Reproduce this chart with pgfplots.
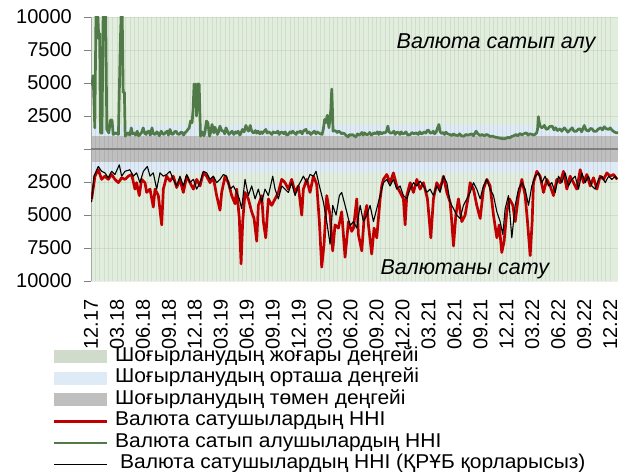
\documentclass[border=0pt]{standalone}
\usepackage{fontspec}
\setmainfont{Liberation Sans}
\newfontfamily\legfont[FakeStretch=1.05]{Liberation Sans}
\usepackage{pgfplots}
\pgfplotsset{compat=1.18}
\definecolor{bandgreen}{RGB}{226,238,221}
\definecolor{bandblue}{RGB}{222,234,246}
\definecolor{bandgray}{RGB}{191,191,191}
\definecolor{sellred}{RGB}{192,0,0}
\definecolor{buygreen}{RGB}{80,122,72}
\begin{document}
\begin{tikzpicture}
\begin{axis}[
  set layers,
  scale only axis, width=527bp, height=264bp,
  at={(0,0)}, anchor=south west,
  xmin=0, xmax=60.9, ymin=-10000, ymax=10000,
  scaled y ticks=false,
  axis x line*=bottom, x axis line style={draw=none},
  axis y line*=left, y axis line style={draw=black!35, line width=0.8bp},
  xtick={0,3,...,60},
  xticklabels={12.17,03.18,06.18,09.18,12.18,03.19,06.19,09.19,12.19,03.20,06.20,09.20,12.20,03.21,06.21,09.21,12.21,03.22,06.22,09.22,12.22},
  x tick label style={rotate=90, anchor=east, font=\fontsize{20bp}{20bp}\selectfont, inner sep=0bp, xshift=-11bp},
  minor x tick num=5,
  xmajorgrids, xminorgrids, ymajorgrids,
  grid style={black, opacity=0.07, line width=0.8bp},
  minor grid style={black, opacity=0.07, line width=0.8bp},
  x tick style={draw=none}, minor x tick style={draw=none},
  ytick={-10000,-7500,-5000,-2500,0,2500,5000,7500,10000},
  yticklabels={10000,7500,5000,2500,{},2500,5000,7500,10000},
  y tick style={draw=black!50, line width=0.8bp},
  tick align=outside, major tick length=7bp,
  y tick label style={font=\fontsize{20bp}{20bp}\selectfont, inner sep=0bp, xshift=-12bp},
  clip=true,
  legend style={at={(-0.0721,-0.247)}, anchor=north west, draw=none, fill=none,
    inner sep=0bp, outer sep=0bp,
    font=\legfont\fontsize{20bp}{21.5bp}\selectfont,
    nodes={inner xsep=0bp, inner ysep=0bp, text height=15bp, text depth=6.5bp},
    /tikz/every odd column/.append style={column sep=7bp}},
  legend cell align=left,
]
% bands
\addplot[fill=bandgreen, draw=none, on layer=axis background,
  legend image code/.code={\fill[bandgreen!92!black] (0bp,-6.5bp) rectangle (53bp,6.5bp);}]
  coordinates {(0,-10000)(60.9,-10000)(60.9,10000)(0,10000)} -- cycle;
\addlegendentry{Шоғырланудың жоғары деңгейі}
\addplot[fill=bandblue, draw=none, on layer=axis background,
  legend image code/.code={\fill[bandblue] (0bp,-6.5bp) rectangle (53bp,6.5bp);}]
  coordinates {(0,-1800)(60.9,-1800)(60.9,1800)(0,1800)} -- cycle;
\addlegendentry{Шоғырланудың орташа деңгейі}
\addplot[fill=bandgray, draw=none, on layer=axis background,
  legend image code/.code={\fill[bandgray] (0bp,-6.5bp) rectangle (53bp,6.5bp);}]
  coordinates {(0,-1000)(60.9,-1000)(60.9,1000)(0,1000)} -- cycle;
\addlegendentry{Шоғырланудың төмен деңгейі}
\addplot[draw=black!50, line width=1.6bp, forget plot] coordinates {(0,0)(60.9,0)};
% sellers HHI
\addplot[sellred, line width=2.7bp, line join=round,
  legend image code/.code={\draw[sellred, line width=2.2bp] (0bp,0bp) -- (53bp,0bp);}]
  coordinates {(0.07,-3800)(0.46,-2060)(0.84,-1570)(1.23,-2300)(1.61,-2060)(2.0,-2300)(2.38,-1930)(2.77,-2300)(3.16,-2550)(3.54,-2180)(3.93,-2300)(4.31,-2060)(4.7,-1930)(5.08,-3040)(5.27,-2550)(5.58,-3530)(5.85,-2300)(6.24,-2550)(6.43,-3290)(6.82,-3040)(7.2,-4400)(7.4,-3040)(7.78,-3530)(8.17,-5750)(8.36,-3040)(8.74,-2060)(9.13,-2430)(9.51,-2060)(9.9,-2920)(10.28,-2300)(10.67,-3290)(11.06,-2060)(11.44,-2550)(11.83,-3040)(12.21,-2300)(12.6,-2800)(12.98,-1810)(13.37,-2060)(13.75,-2550)(14.14,-2180)(14.52,-3530)(14.91,-4640)(15.1,-3290)(15.49,-2060)(15.87,-2550)(16.26,-3530)(16.64,-4150)(16.84,-3040)(17.14,-5260)(17.34,-8700)(17.53,-5500)(17.8,-3290)(18.18,-3780)(18.57,-4760)(18.84,-5260)(19.15,-6980)(19.34,-4270)(19.73,-3530)(19.92,-5500)(20.19,-6730)(20.5,-3780)(20.88,-4270)(21.27,-3780)(21.65,-3290)(22.04,-2300)(22.42,-2550)(22.81,-3040)(23.19,-2300)(23.58,-3290)(23.96,-2800)(24.35,-5010)(24.54,-3040)(24.93,-2300)(25.31,-3290)(25.7,-2060)(26.08,-2670)(26.39,-5500)(26.66,-8950)(26.93,-7220)(27.24,-3530)(27.63,-5010)(27.93,-7720)(28.2,-5750)(28.59,-5990)(28.97,-4760)(29.36,-8200)(29.75,-5500)(30.13,-6240)(30.33,-6000)(30.71,-3780)(30.9,-6480)(31.29,-7720)(31.56,-5260)(31.87,-4270)(32.06,-5750)(32.44,-7960)(32.71,-5990)(33.02,-6730)(33.41,-3780)(33.6,-2800)(33.79,-2300)(34.18,-1930)(34.56,-2550)(34.95,-1810)(35.33,-2800)(35.72,-3290)(36.1,-3780)(36.3,-5750)(36.49,-3530)(36.88,-2550)(37.26,-3290)(37.65,-2300)(38.03,-3040)(38.42,-2550)(38.88,-3780)(39.27,-6730)(39.57,-3780)(39.96,-2550)(40.34,-3040)(40.73,-2060)(41.12,-3290)(41.5,-4030)(41.69,-5500)(41.89,-7350)(42.16,-5010)(42.46,-3780)(42.85,-5500)(43.23,-5010)(43.62,-3530)(43.81,-2550)(44.2,-3040)(44.58,-4270)(44.97,-5260)(45.35,-3040)(45.74,-2300)(46.12,-2800)(46.51,-5010)(46.9,-6730)(47.17,-5750)(47.47,-7840)(47.74,-6980)(48.05,-4760)(48.36,-3780)(48.75,-4270)(49.02,-5500)(49.4,-3530)(49.79,-2300)(50.17,-3530)(50.44,-5500)(50.75,-8080)(50.98,-5500)(51.13,-2550)(51.52,-1690)(51.9,-2060)(52.29,-3290)(52.68,-2300)(53.06,-2800)(53.45,-3530)(53.83,-2300)(54.22,-2550)(54.6,-1690)(54.99,-3040)(55.37,-2060)(55.76,-2550)(56.14,-3040)(56.53,-1570)(56.92,-2550)(57.3,-1930)(57.69,-2800)(58.07,-2180)(58.46,-3040)(58.84,-2060)(59.23,-2300)(59.61,-1810)(60.0,-2060)(60.38,-1930)(60.8,-2300)};
\addlegendentry{Валюта сатушылардың ННІ}
% buyers HHI
\addplot[buygreen, line width=2.7bp, line join=round,
  legend image code/.code={\draw[buygreen, line width=2.2bp] (0bp,0bp) -- (53bp,0bp);}]
  coordinates {(0.1,4800)(0.25,5560)(0.44,1600)(0.58,10500)(0.76,10500)(0.9,8360)(1.0,8750)(1.09,1220)(1.27,1200)(1.41,10500)(1.69,10500)(1.83,1480)(2.06,1220)(2.24,2190)(2.43,2190)(2.56,1100)(2.89,1220)(3.17,1100)(3.4,8360)(3.5,10500)(3.6,10500)(3.72,4280)(3.86,4280)(3.95,970)(4.27,1220)(4.5,1050)(4.65,1600)(4.8,1150)(4.97,1220)(5.15,1050)(5.34,1350)(5.5,1000)(5.66,1100)(5.85,1250)(6.03,1600)(6.2,1200)(6.36,1100)(6.5,1300)(6.68,1350)(6.85,1050)(7.05,1600)(7.2,1150)(7.42,1100)(7.6,1300)(7.74,1220)(7.9,1000)(8.11,1350)(8.3,1150)(8.44,1100)(8.6,1250)(8.81,1350)(8.95,1050)(9.13,1480)(9.3,1150)(9.46,1100)(9.65,1300)(9.83,1350)(10.0,1150)(10.2,1100)(10.35,1250)(10.52,1275)(10.7,1050)(10.85,1225)(11.0,1300)(11.2,1480)(11.35,1600)(11.5,2115)(11.68,1990)(11.8,3000)(11.91,4920)(12.0,4700)(12.1,4920)(12.2,2500)(12.33,4920)(12.5,4920)(12.65,970)(12.8,1300)(12.92,1225)(13.05,1000)(13.16,1225)(13.34,2115)(13.5,1990)(13.7,970)(13.85,1300)(13.99,1860)(14.1,1500)(14.2,1225)(14.3,1650)(14.45,1480)(14.6,1100)(14.75,1300)(14.9,1735)(15.1,1400)(15.3,1350)(15.45,1150)(15.6,1605)(15.8,1300)(15.95,1100)(16.1,1225)(16.3,1350)(16.5,1100)(16.7,1300)(16.85,1200)(17.0,1350)(17.2,1050)(17.35,1250)(17.5,1480)(17.7,1300)(17.9,1785)(18.05,1500)(18.2,1350)(18.4,1785)(18.55,1400)(18.7,1250)(18.84,1225)(19.0,1400)(19.15,1200)(19.3,1350)(19.5,1150)(19.65,1300)(19.8,1175)(20.0,1350)(20.2,1480)(20.35,1200)(20.5,1300)(20.7,1225)(20.9,1100)(21.05,1300)(21.2,1250)(21.4,1225)(21.6,1350)(21.75,1100)(21.9,1250)(22.1,1275)(22.3,1150)(22.45,1300)(22.6,1050)(22.8,1100)(23.0,1300)(23.15,1200)(23.3,1350)(23.5,1225)(23.7,1100)(23.85,1300)(24.0,1250)(24.2,1350)(24.4,1150)(24.6,1400)(24.85,1480)(25.0,1200)(25.2,1300)(25.4,1100)(25.6,1225)(25.8,1350)(26.0,1150)(26.15,1300)(26.3,1225)(26.5,1150)(26.7,1100)(26.85,1500)(27.0,2245)(27.15,2000)(27.3,2550)(27.5,1605)(27.62,2400)(27.72,3010)(27.82,4540)(27.9,3000)(27.97,1350)(28.1,1400)(28.3,1350)(28.45,1250)(28.6,1350)(28.8,1275)(28.95,1150)(29.1,1200)(29.25,1175)(29.45,1050)(29.7,920)(29.9,1100)(30.05,1050)(30.2,1100)(30.4,1000)(30.6,920)(30.8,1150)(30.95,1050)(31.1,1100)(31.3,1250)(31.45,1050)(31.6,1225)(31.8,1100)(32.0,1100)(32.2,1250)(32.4,1050)(32.7,1225)(32.9,1150)(33.1,1300)(33.25,1100)(33.4,1275)(33.6,1150)(33.8,1250)(34.0,1225)(34.15,1350)(34.3,1735)(34.45,1300)(34.6,1200)(34.8,1225)(35.0,1350)(35.15,1100)(35.3,1250)(35.5,1275)(35.7,1100)(35.85,1300)(36.0,1150)(36.2,1175)(36.4,1300)(36.6,1050)(36.9,1100)(37.1,1250)(37.3,1150)(37.6,1225)(37.8,1100)(38.0,1300)(38.15,1150)(38.3,1175)(38.5,1300)(38.7,1200)(38.85,1400)(39.0,1430)(39.2,1200)(39.4,1225)(39.55,1350)(39.7,1150)(39.9,1300)(40.05,1600)(40.2,1860)(40.35,1300)(40.5,1175)(40.7,1250)(40.85,1100)(41.0,1275)(41.2,1150)(41.45,1100)(41.7,1020)(41.9,1150)(42.1,1050)(42.4,1020)(42.6,1150)(42.8,1000)(43.1,970)(43.3,1100)(43.5,1050)(43.8,1100)(44.0,1150)(44.2,1000)(44.5,1350)(44.7,1150)(44.98,1020)(45.2,1100)(45.45,1000)(45.7,1100)(45.9,1050)(46.1,950)(46.4,970)(46.7,900)(46.9,880)(47.1,840)(47.4,800)(47.75,765)(48.0,820)(48.2,880)(48.4,840)(48.6,950)(48.85,1000)(49.1,1100)(49.3,1000)(49.6,1175)(49.8,1050)(50.0,1150)(50.3,1225)(50.5,1050)(50.7,1150)(50.98,1100)(51.2,1050)(51.5,1225)(51.6,1500)(51.7,2450)(51.8,2000)(51.9,1735)(52.1,1600)(52.4,1785)(52.6,1500)(52.8,1530)(53.0,1700)(53.3,1735)(53.5,1450)(53.7,1605)(53.9,1400)(54.2,1530)(54.4,1350)(54.7,1605)(54.9,1450)(55.1,1275)(55.3,1400)(55.6,1605)(55.8,1350)(56.1,1350)(56.3,1500)(56.5,1530)(56.7,1300)(57.0,1785)(57.2,1450)(57.5,1350)(57.7,1550)(57.9,1530)(58.1,1350)(58.4,1350)(58.6,1500)(58.9,1605)(59.1,1450)(59.3,1680)(59.5,1550)(59.8,1480)(60.0,1600)(60.2,1430)(60.45,1300)(60.7,1225)(60.9,1225)};
\addlegendentry{Валюта сатып алушылардың ННІ}
% sellers HHI without NBK
\addplot[black, line width=1.1bp, line join=round,
  legend image code/.code={\draw[black, line width=1bp] (0bp,0bp) -- (53bp,0bp);}]
  coordinates {(0.07,-4030)(0.34,-2060)(0.84,-1320)(1.23,-1690)(1.61,-1810)(2.0,-2180)(2.38,-1690)(2.77,-1930)(3.27,-1200)(3.54,-2060)(3.93,-1690)(4.5,-1570)(4.89,-2060)(5.27,-1810)(5.66,-2550)(6.05,-1690)(6.51,-1320)(6.82,-2060)(7.2,-1810)(7.59,-3040)(7.97,-1810)(8.36,-2060)(8.74,-1930)(9.13,-1690)(9.51,-2300)(9.9,-2800)(10.28,-2060)(10.67,-2800)(11.06,-1930)(11.44,-2550)(11.83,-2300)(12.21,-3040)(12.6,-2550)(12.98,-1690)(13.37,-1810)(13.75,-2300)(14.14,-2060)(14.52,-2550)(14.91,-2300)(15.3,-1930)(15.68,-2060)(16.07,-3040)(16.45,-2800)(16.84,-3290)(17.14,-3780)(17.41,-4520)(17.8,-2300)(18.18,-3530)(18.57,-2800)(18.96,-3780)(19.34,-3040)(19.73,-4030)(20.11,-3040)(20.5,-3530)(21.0,-2060)(21.27,-3040)(21.65,-3780)(22.04,-2800)(22.42,-3040)(22.81,-3290)(23.19,-2550)(23.58,-3530)(23.96,-2800)(24.54,-2060)(24.93,-2550)(25.31,-1930)(25.7,-2060)(26.01,-1690)(26.39,-2800)(26.86,-4030)(27.24,-5500)(27.63,-7220)(27.93,-4270)(28.32,-5010)(28.7,-3530)(28.97,-3290)(29.36,-4270)(29.55,-4760)(29.94,-5800)(30.33,-5500)(30.71,-5990)(31.1,-4270)(31.48,-5500)(31.87,-5010)(32.25,-4270)(32.64,-5500)(33.02,-4520)(33.41,-3530)(33.79,-2550)(34.18,-2300)(34.56,-2800)(34.95,-2300)(35.33,-3040)(35.72,-2800)(36.1,-3530)(36.49,-3780)(36.88,-3040)(37.26,-2550)(37.65,-2800)(38.03,-2430)(38.42,-2800)(38.8,-3290)(39.19,-3040)(39.57,-3530)(39.96,-2800)(40.34,-3290)(40.73,-2060)(41.12,-2550)(41.5,-4030)(41.89,-4520)(42.27,-5010)(42.66,-5260)(43.04,-4270)(43.43,-3780)(43.81,-3290)(44.2,-2550)(44.58,-3040)(44.97,-3780)(45.35,-2800)(45.74,-2300)(46.12,-3040)(46.51,-3530)(46.9,-4760)(47.28,-5500)(47.59,-6480)(47.86,-4520)(48.24,-3530)(48.63,-6730)(49.02,-4270)(49.4,-3040)(49.79,-2550)(50.17,-3040)(50.56,-4270)(50.94,-2800)(51.33,-2060)(51.71,-1810)(52.1,-2550)(52.48,-2060)(52.87,-2800)(53.25,-2550)(53.64,-3290)(54.02,-2060)(54.41,-2550)(54.79,-1810)(55.18,-2800)(55.57,-2300)(55.95,-2060)(56.34,-3040)(56.72,-1810)(57.11,-2550)(57.49,-2060)(57.88,-2800)(58.26,-3040)(58.65,-2300)(59.04,-2060)(59.42,-2550)(59.81,-2060)(60.19,-2300)(60.58,-2060)(60.8,-2300)};
\addlegendentry{\hspace{5bp}Валюта сатушылардың ННІ (ҚРҰБ қорларысыз)}
\node[font=\fontsize{21.5bp}{21.5bp}\selectfont\itshape] at (axis cs:46.8,8030) {Валюта сатып алу};
\node[font=\fontsize{21.5bp}{21.5bp}\selectfont\itshape] at (axis cs:43.2,-9090) {Валютаны сату};
\end{axis}
\pgfresetboundingbox
\path[use as bounding box] (-91bp,-191bp) rectangle (529bp,281bp);
\end{tikzpicture}
\end{document}
